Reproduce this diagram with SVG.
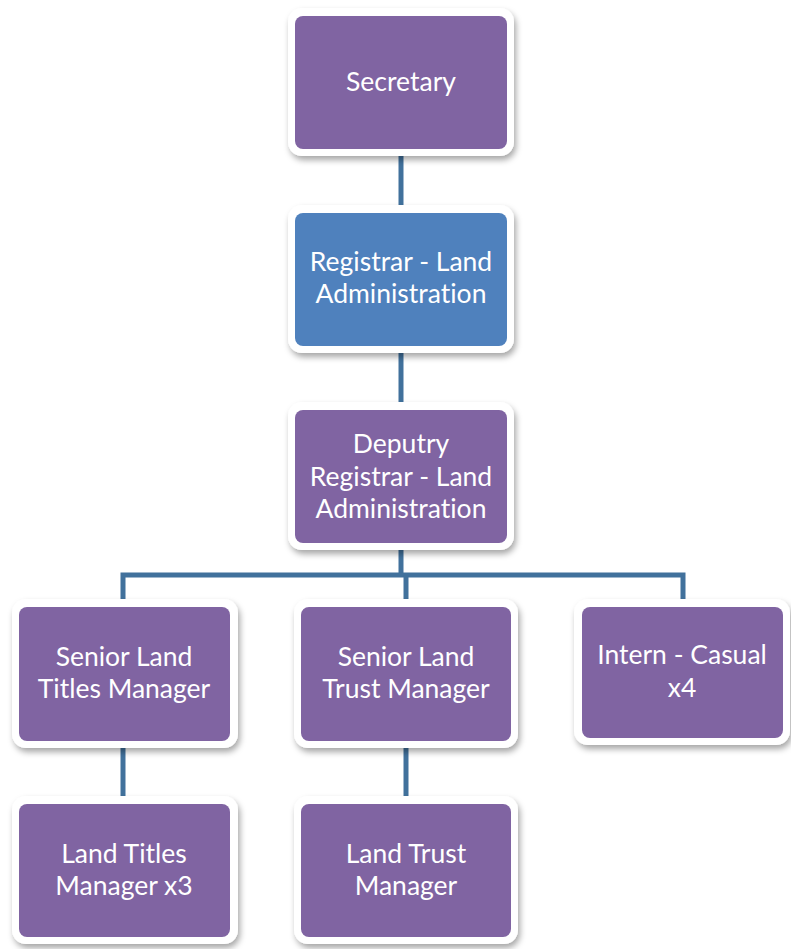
<svg xmlns="http://www.w3.org/2000/svg" width="791" height="949" viewBox="0 0 791 949">
  <defs>
    <filter id="shadow" x="-10%" y="-10%" width="125%" height="130%">
      <feDropShadow dx="2" dy="4" stdDeviation="3" flood-color="#000" flood-opacity="0.35"/>
    </filter>
  </defs>
  <style>
    .frame { fill: #ffffff; filter: url(#shadow); }
    .purple { fill: #8064A2; }
    .blue { fill: #4F81BD; }
    .label { font-family: Lato, "Open Sans", "Liberation Sans", sans-serif; font-size: 26.5px; fill: #ffffff; text-anchor: middle; font-variant-ligatures: none; }
    .link { stroke: #41719C; stroke-width: 5; fill: none; stroke-linecap: butt; }
  </style>
  <rect width="791" height="949" fill="#ffffff"/>

  <!-- connectors -->
  <g id="connectors">
    <line class="link" x1="401" y1="152" x2="401" y2="206"/>
    <line class="link" x1="401" y1="349" x2="401" y2="404"/>
    <line class="link" x1="401" y1="546" x2="401" y2="575"/>
    <polyline class="link" points="123,601 123,575 683,575 683,601"/>
    <line class="link" x1="406" y1="575" x2="406" y2="601"/>
    <line class="link" x1="123" y1="744" x2="123" y2="798"/>
    <line class="link" x1="406" y1="744" x2="406" y2="798"/>
  </g>

  <g id="secretary">
    <rect class="frame" x="288" y="8" width="226" height="148" rx="14"/>
    <rect class="purple" x="295" y="16" width="212" height="133" rx="8"/>
    <text class="label" x="401" y="91">Secretary</text>
  </g>

  <g id="registrar">
    <rect class="frame" x="288" y="205" width="226" height="148" rx="14"/>
    <rect class="blue" x="295" y="213" width="212" height="133" rx="8"/>
    <text class="label" x="401" y="271">Registrar - Land</text>
    <text class="label" x="401" y="303">Administration</text>
  </g>

  <g id="deputy-registrar">
    <rect class="frame" x="288" y="402" width="226" height="148" rx="14"/>
    <rect class="purple" x="295" y="410" width="212" height="133" rx="8"/>
    <text class="label" x="401" y="453">Deputry</text>
    <text class="label" x="401" y="486">Registrar - Land</text>
    <text class="label" x="401" y="518">Administration</text>
  </g>

  <g id="senior-titles">
    <rect class="frame" x="12" y="599" width="226" height="149" rx="14"/>
    <rect class="purple" x="19" y="607" width="211" height="134" rx="8"/>
    <text class="label" x="124" y="666">Senior Land</text>
    <text class="label" x="124" y="698">Titles Manager</text>
  </g>

  <g id="senior-trust">
    <rect class="frame" x="294" y="599" width="224" height="149" rx="14"/>
    <rect class="purple" x="301" y="607" width="210" height="134" rx="8"/>
    <text class="label" x="406" y="666">Senior Land</text>
    <text class="label" x="406" y="698">Trust Manager</text>
  </g>

  <g id="intern">
    <rect class="frame" x="574" y="599" width="216" height="146" rx="14"/>
    <rect class="purple" x="582" y="607" width="201" height="131" rx="8"/>
    <text class="label" x="682" y="664">Intern - Casual</text>
    <text class="label" x="682" y="697">x4</text>
  </g>

  <g id="land-titles">
    <rect class="frame" x="12" y="796" width="226" height="148" rx="14"/>
    <rect class="purple" x="19" y="804" width="211" height="133" rx="8"/>
    <text class="label" x="124" y="863">Land Titles</text>
    <text class="label" x="124" y="895">Manager x3</text>
  </g>

  <g id="land-trust">
    <rect class="frame" x="294" y="796" width="224" height="148" rx="14"/>
    <rect class="purple" x="301" y="804" width="210" height="133" rx="8"/>
    <text class="label" x="406" y="863">Land Trust</text>
    <text class="label" x="406" y="895">Manager</text>
  </g>
</svg>
